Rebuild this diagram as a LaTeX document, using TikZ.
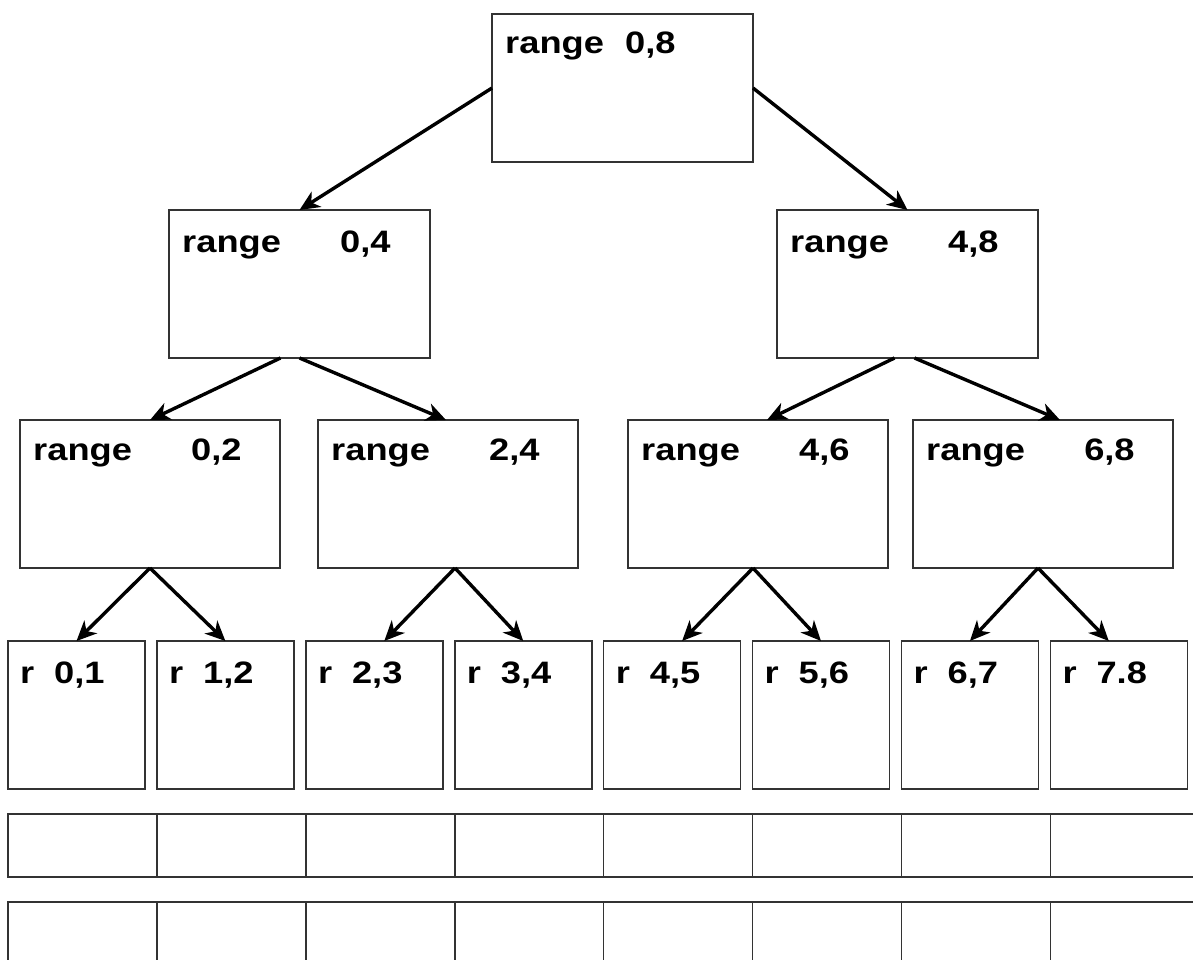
\documentclass[tikz,border=0pt]{standalone}
\usepackage{fontspec}
\setmainfont{Liberation Sans}
\usetikzlibrary{arrows.meta,calc}
\tikzset{
  box/.style={draw=black!80,line width=1.6pt,inner sep=0pt,outer sep=0pt,minimum width=261pt,minimum height=148pt,anchor=north west},
  leaf/.style={box,minimum width=137pt},
  cell/.style={draw=black!80,line width=1.6pt},
  lbl/.style={font=\fontsize{31}{31}\selectfont\bfseries,xscale=1.17,inner sep=0pt,anchor=base west},
  arr/.style={-{Stealth[length=20pt,width=18pt,inset=6pt]},line width=3.4pt}
}

\begin{document}
\begin{tikzpicture}[x=1pt,y=-1pt]
\useasboundingbox (0,0) rectangle (1193,960);
% tree of ranges
\node[box] (r08) at (492,14) {};
\node[box] (r04) at (169,210) {};
\node[box] (r48) at (777,210) {};
\node[box,minimum width=260pt] (r02) at (20,420) {};
\node[box,minimum width=260pt] (r24) at (318,420) {};
\node[box,minimum width=260pt] (r46) at (628,420) {};
\node[box,minimum width=260pt] (r68) at (913,420) {};
\foreach \n/\t [count=\i from 0] in {01/{0,1},12/{1,2},23/{2,3},34/{3,4},45/{4,5},56/{5,6},67/{6,7},78/{7.8}}{
  \node[leaf] (r\n) at (8+148.9*\i,641) {};
  \node[lbl] (t\n) at ($(r\n.north west)+(12,42)$) {r};
  \node[lbl] (v\n) at ($(r\n.north west)+(46,42)$) {\t};
}
\node[lbl] (t08) at ($(r08.north west)+(13,40)$) {range};
\node[lbl] (v08) at ($(r08.north west)+(133,40)$) {0,8};
\foreach \n/\t/\d in {04/{0,4}/42,48/{4,8}/42,02/{0,2}/40,24/{2,4}/40,46/{4,6}/40,68/{6,8}/40}{
  \node[lbl] (t\n) at ($(r\n.north west)+(13,\d)$) {range};
  \node[lbl] (v\n) at ($(r\n.north west)+(171,\d)$) {\t};
}

% arrows
\draw[arr] (r08.west) -- (r04.north);
\draw[arr] (r08.east) -- (r48.north);
\draw[arr] ([xshift=-19pt]r04.south) -- (r02.north);
\draw[arr] (r04.south) -- ([xshift=-2pt]r24.north);
\draw[arr] ([xshift=-13pt]r48.south) -- ([xshift=9pt]r46.north);
\draw[arr] ([xshift=7pt]r48.south) -- ([xshift=17pt]r68.north);
\draw[arr] (r02.south) -- (r01.north);
\draw[arr] (r02.south) -- (r12.north);
\draw[arr] ([xshift=7pt]r24.south) -- ([xshift=10pt]r23.north);
\draw[arr] ([xshift=7pt]r24.south) -- (r34.north);
\draw[arr] ([xshift=-5pt]r46.south) -- ([xshift=10pt]r45.north);
\draw[arr] ([xshift=-5pt]r46.south) -- (r56.north);
\draw[arr] ([xshift=-5pt]r68.south) -- (r67.north);
\draw[arr] ([xshift=-5pt]r68.south) -- ([xshift=-10pt]r78.north);

% bottom rows
\foreach \i in {0,...,7}{
  \draw[cell] (8+148.9*\i,814) rectangle ++(148.9,63);
  \draw[cell] (8+148.9*\i,902) rectangle ++(148.9,70);
}
\end{tikzpicture}
\end{document}
